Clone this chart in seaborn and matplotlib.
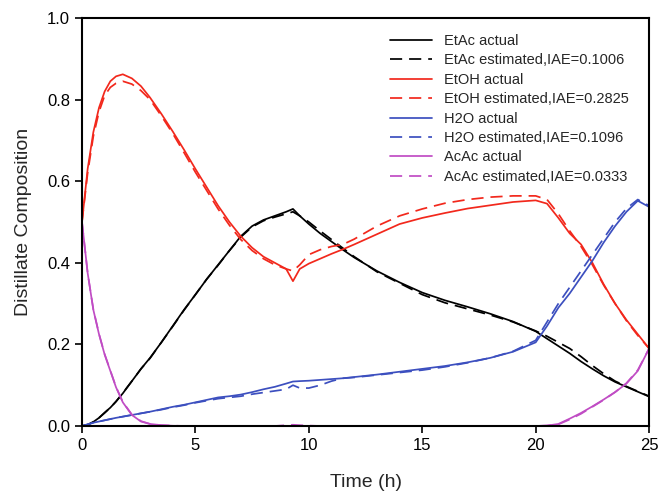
import numpy as np
import pandas as pd

import seaborn as sns
import matplotlib.pyplot as plt


time_h = [0, 0.25, 0.5, 0.75, 1.0, 1.25, 1.5, 1.8, 2.2, 2.6, 3, 3.5, 4, 4.5,
          5, 5.5, 6, 6.5, 7, 7.5, 8, 8.5, 9, 9.3, 9.6, 10, 10.5, 11, 11.5,
          12, 13, 14, 15, 16, 17, 18, 19, 20, 20.5, 21, 21.5, 22, 22.5, 23,
          23.5, 24, 24.5, 25]

etac_actual = [0, 0.003, 0.01, 0.02, 0.033, 0.045, 0.06, 0.08, 0.11, 0.14,
               0.167, 0.205, 0.245, 0.285, 0.322, 0.36, 0.395, 0.43, 0.465,
               0.49, 0.505, 0.515, 0.525, 0.532, 0.515, 0.495, 0.472, 0.452,
               0.432, 0.413, 0.38, 0.352, 0.327, 0.308, 0.292, 0.275, 0.256,
               0.232, 0.214, 0.196, 0.178, 0.158, 0.14, 0.123, 0.108, 0.096,
               0.084, 0.072]
etac_est = [0, 0.003, 0.01, 0.02, 0.032, 0.045, 0.06, 0.081, 0.11, 0.14,
            0.166, 0.205, 0.244, 0.284, 0.322, 0.36, 0.394, 0.43, 0.463,
            0.488, 0.503, 0.512, 0.52, 0.525, 0.515, 0.50, 0.478, 0.457,
            0.436, 0.415, 0.378, 0.35, 0.322, 0.302, 0.287, 0.272, 0.255,
            0.233, 0.22, 0.205, 0.19, 0.17, 0.148, 0.128, 0.11, 0.097,
            0.085, 0.073]

etoh_actual = [0.50, 0.63, 0.72, 0.78, 0.82, 0.845, 0.857, 0.862, 0.852,
               0.833, 0.805, 0.765, 0.722, 0.677, 0.63, 0.585, 0.54, 0.50,
               0.465, 0.437, 0.415, 0.40, 0.385, 0.355, 0.385, 0.398, 0.41,
               0.422, 0.433, 0.445, 0.47, 0.495, 0.51, 0.522, 0.533, 0.541,
               0.549, 0.553, 0.545, 0.51, 0.472, 0.445, 0.40, 0.347, 0.30,
               0.26, 0.225, 0.19]
etoh_est = [0.50, 0.62, 0.71, 0.77, 0.81, 0.83, 0.84, 0.845, 0.838, 0.822,
            0.80, 0.76, 0.717, 0.67, 0.622, 0.577, 0.532, 0.492, 0.457,
            0.43, 0.41, 0.395, 0.385, 0.38, 0.395, 0.42, 0.432, 0.44,
            0.445, 0.458, 0.49, 0.515, 0.532, 0.546, 0.555, 0.561, 0.564,
            0.564, 0.555, 0.52, 0.478, 0.44, 0.395, 0.345, 0.30, 0.258,
            0.222, 0.19]

h2o_actual = [0, 0.004, 0.008, 0.011, 0.014, 0.017, 0.02, 0.023, 0.027,
              0.031, 0.035, 0.041, 0.047, 0.052, 0.058, 0.064, 0.07, 0.073,
              0.077, 0.083, 0.09, 0.096, 0.104, 0.109, 0.11, 0.111, 0.113,
              0.115, 0.117, 0.12, 0.126, 0.133, 0.14, 0.147, 0.156, 0.167,
              0.182, 0.205, 0.245, 0.29, 0.325, 0.365, 0.405, 0.45, 0.49,
              0.525, 0.552, 0.537]
h2o_est = [0, 0.004, 0.008, 0.011, 0.014, 0.017, 0.02, 0.023, 0.027, 0.031,
           0.035, 0.04, 0.046, 0.051, 0.057, 0.062, 0.067, 0.07, 0.073,
           0.078, 0.082, 0.086, 0.09, 0.10, 0.093, 0.093, 0.10, 0.11,
           0.117, 0.119, 0.125, 0.131, 0.137, 0.145, 0.155, 0.167, 0.183,
           0.21, 0.255, 0.30, 0.34, 0.38, 0.42, 0.46, 0.50, 0.533, 0.555,
           0.54]

acac_actual = [0.50, 0.375, 0.285, 0.225, 0.175, 0.135, 0.095, 0.058, 0.027,
               0.011, 0.005, 0.002, 0.0005, 0, 0, 0, 0, 0, 0, 0, 0, 0, 0, 0,
               0, 0, 0, 0, 0, 0, 0, 0, 0, 0, 0, 0, 0, 0, 0.001, 0.005, 0.018,
               0.032, 0.048, 0.065, 0.083, 0.104, 0.135, 0.19]
acac_est = [0.50, 0.375, 0.286, 0.226, 0.176, 0.136, 0.096, 0.059, 0.028,
            0.012, 0.005, 0.002, 0.001, 0, 0, 0, 0, 0, 0, 0, 0, 0, 0.002,
            0.003, 0.002, 0.001, 0, 0, 0, 0, 0, 0, 0, 0, 0, 0, 0, 0, 0.001,
            0.004, 0.016, 0.03, 0.047, 0.064, 0.083, 0.105, 0.137, 0.19]

series = [
    ("EtAc actual", etac_actual, "black", False),
    ("EtAc estimated,IAE=0.1006", etac_est, "black", True),
    ("EtOH actual", etoh_actual, "#f2281c", False),
    ("EtOH estimated,IAE=0.2825", etoh_est, "#f2281c", True),
    ("H2O actual", h2o_actual, "#3c4fbf", False),
    ("H2O estimated,IAE=0.1096", h2o_est, "#3c4fbf", True),
    ("AcAc actual", acac_actual, "#c04cc4", False),
    ("AcAc estimated,IAE=0.0333", acac_est, "#c04cc4", True),
]

sns.set_style("ticks")
plt.rcParams["font.family"] = ["Liberation Sans", "DejaVu Sans"]

fig = plt.figure(figsize=(6.59, 4.93), dpi=100)
ax = fig.add_axes([0.1244, 0.1359, 0.8606, 0.8276])

for name, vals, color, dashed in series:
    df = pd.DataFrame({"t": time_h, "x": vals})
    sns.lineplot(data=df, x="t", y="x", ax=ax, color=color,
                 linewidth=1.25, label=name, estimator=None, sort=False)
    if dashed:
        ax.lines[-1].set_dashes((7, 4))

ax.set_xlim(0, 25)
ax.set_ylim(0, 1.0)
ax.set_xticks([0, 5, 10, 15, 20, 25])
ax.set_yticks([0, 0.2, 0.4, 0.6, 0.8, 1.0])
ax.set_yticklabels(["0.0", "0.2", "0.4", "0.6", "0.8", "1.0"])
ax.tick_params(axis="both", labelsize=12, direction="out", length=5,
               width=1.2, colors="black", top=False, right=False)
ax.set_xlabel("Time (h)", fontsize=14, labelpad=15)
ax.set_ylabel("Distillate Composition", fontsize=14, labelpad=11)
for sp in ax.spines.values():
    sp.set_visible(True)
    sp.set_linewidth(1.5)
    sp.set_color("black")

ax.legend(loc="upper left", bbox_to_anchor=(0.533, 0.975), borderaxespad=0,
          frameon=False, fontsize=10.5, handlelength=2.9,
          labelspacing=0.37, handletextpad=0.8)

fig.savefig("out.png", dpi=100)
plt.close()
